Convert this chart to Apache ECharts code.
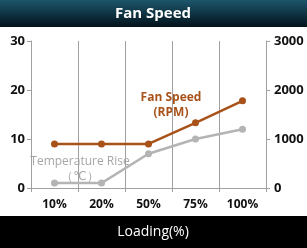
<!DOCTYPE html>
<html>
<head>
<meta charset="utf-8">
<script src="https://cdn.jsdelivr.net/npm/echarts@6/dist/echarts.min.js"></script>
<style>
  html, body { margin: 0; padding: 0; background: #fff; }
  #main { width: 307px; height: 248px; }
</style>
</head>
<body>
<div id="main"></div>
<script>
var loading = ["10%", "20%", "50%", "75%", "100%"];
var tempRise = [1, 1, 7, 10, 12];
var fanSpeed = [900, 900, 900, 1330, 1780];
var leftTicks = [0, 30, 10];   // min, max, interval
var rightTicks = [0, 3000, 1000];

var myChart = echarts.init(document.getElementById("main"));
var font = "'Open Sans', 'DejaVu Sans', sans-serif";

var option = {
  animation: false,
  textStyle: { fontFamily: font },
  graphic: [
    {
      type: "rect",
      shape: { x: 0, y: 0, width: 307, height: 27 },
      style: {
        fill: new echarts.graphic.LinearGradient(0, 0, 0, 1, [
          { offset: 0, color: "#1d566b" },
          { offset: 1, color: "#02121b" },
        ]),
      },
    },
    {
      type: "text",
      x: 153, y: 14,
      style: {
        text: "Fan Speed", fill: "#fff", font: "bold 15px " + font,
        align: "center", verticalAlign: "middle",
      },
    },
    {
      type: "rect",
      shape: { x: 0, y: 216, width: 307, height: 32 },
      style: { fill: "#000" },
    },
    {
      type: "text",
      x: 153, y: 232,
      style: {
        text: "Loading(%)", fill: "#fff", font: "14px " + font,
        align: "center", verticalAlign: "middle",
      },
    },
    {
      type: "text",
      x: 171, y: 105,
      style: {
        text: "Fan Speed\n(RPM)", fill: "#a8521a", font: "bold 12px " + font,
        align: "center", verticalAlign: "middle", lineHeight: 15,
      },
    },
    {
      type: "text",
      x: 80, y: 169,
      style: {
        text: "Temperature Rise\n\uff08\u2103\uff09", fill: "#a6a6a6", font: "12px " + font,
        align: "center", verticalAlign: "middle", lineHeight: 15,
      },
    },
  ],
  grid: { left: 31, right: 41, top: 41, bottom: 60 },
  xAxis: {
    type: "category",
    data: loading,
    boundaryGap: true,
    axisLine: { lineStyle: { color: "#a0a0a0", width: 1 } },
    axisTick: { show: true, length: 4, lineStyle: { color: "#a0a0a0" } },
    axisLabel: { color: "#111", fontWeight: "bold", fontSize: 12, margin: 11 },
    splitLine: { show: true, lineStyle: { color: "#a0a0a0", width: 1 } },
  },
  yAxis: [
    {
      type: "value",
      min: leftTicks[0], max: leftTicks[1], interval: leftTicks[2],
      axisLine: { show: true, lineStyle: { color: "#a0a0a0" } },
      axisTick: { show: true, length: 4, lineStyle: { color: "#a0a0a0" } },
      axisLabel: { color: "#111", fontWeight: "bold", fontSize: 13, margin: 6 },
      splitLine: { show: false },
    },
    {
      type: "value",
      position: "right",
      min: rightTicks[0], max: rightTicks[1], interval: rightTicks[2],
      axisLine: { show: true, lineStyle: { color: "#a0a0a0" } },
      axisTick: { show: true, length: 4, lineStyle: { color: "#a0a0a0" } },
      axisLabel: {
        color: "#111", fontWeight: "bold", fontSize: 13, margin: 8,
        formatter: function (v) { return String(v); },
      },
      splitLine: { show: false },
    },
  ],
  series: [
    {
      name: "Temperature Rise",
      type: "line",
      yAxisIndex: 0,
      data: tempRise,
      symbol: "circle",
      symbolSize: 7,
      lineStyle: { color: "#b4b4b4", width: 2.5 },
      itemStyle: { color: "#b4b4b4" },
    },
    {
      name: "Fan Speed",
      type: "line",
      yAxisIndex: 1,
      data: fanSpeed,
      symbol: "circle",
      symbolSize: 7,
      lineStyle: { color: "#a8521a", width: 2.5 },
      itemStyle: { color: "#a8521a" },
    },
  ],
};

myChart.setOption(option);
window.addEventListener("resize", function () {
  myChart.resize();
});
</script>
</body>
</html>
